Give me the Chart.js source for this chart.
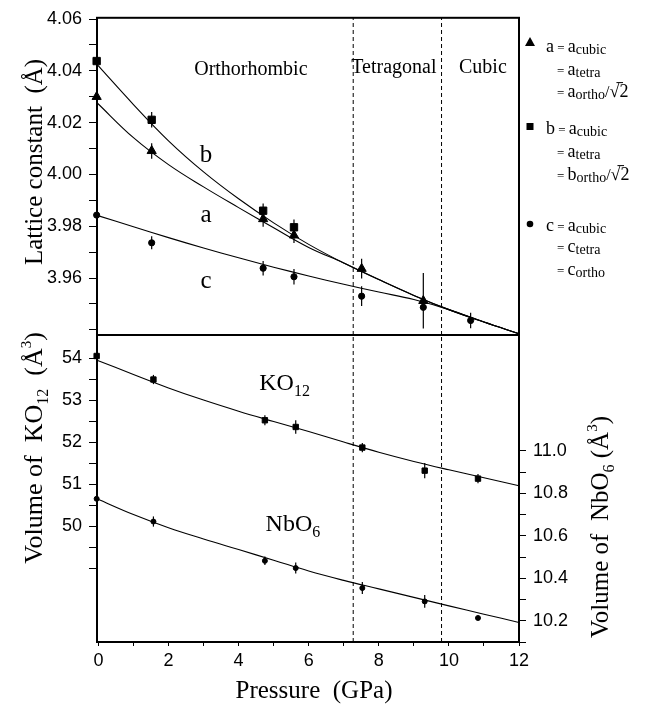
<!DOCTYPE html>
<html>
<head>
<meta charset="utf-8">
<script src="https://cdn.jsdelivr.net/npm/chart.js@4.4.1/dist/chart.umd.min.js"></script>
<style>
  body { margin: 0; background: #fff; }
  #wrap { position: relative; width: 665px; height: 706px; background: #fff; }
  canvas { position: absolute; left: 0; top: 0; }
</style>
</head>
<body>
<div id="wrap">
  <canvas id="topChart" width="665" height="706"></canvas>
  <canvas id="bottomChart" width="665" height="706"></canvas>
</div>
<script>
// pressure axis (GPa)
const xMin = -0.04, xMax = 12;
const xTicks = [0, 1, 2, 3, 4, 5, 6, 7, 8, 9, 10, 11, 12];
const xLabels = [0, 2, 4, 6, 8, 10, 12];
const phaseBounds = [7.27, 9.79];

// top panel: lattice constants (Å)
const topMin = 3.938, topMax = 4.0605;
const topTicks = [3.94, 3.95, 3.96, 3.97, 3.98, 3.99, 4.00, 4.01, 4.02, 4.03, 4.04, 4.05, 4.06];
const topLabels = [3.96, 3.98, 4.00, 4.02, 4.04, 4.06];

const pressureTop = [-0.05, 1.52, 4.70, 5.58, 7.51, 9.27, 10.62];
const aValues = [4.0300, 4.0091, 3.9828, 3.9765, 3.9636, 3.9512];
const aErrors = [0, 0.003, 0.003, 0.003, 0.0038, 0.0107];
const bValues = [4.0438, 4.0211, 3.9860, 3.9796];
const bErrors = [0, 0.003, 0.0028, 0.003];
const cValues = [3.9843, 3.9736, 3.9638, 3.9605, 3.9530, 3.9487, 3.9436];
const cErrors = [0, 0.0025, 0.0028, 0.003, 0.0038, 0, 0.003];

// fitted curves, read at these pressures
const fitPressure = [-0.04, 1, 2, 3, 4, 5, 6, 7, 8, 9, 10, 11, 12];
const aFit = [4.0277, 4.0142, 4.0038, 3.9952, 3.9872, 3.9794, 3.9718, 3.9658, 3.9594, 3.9533, 3.9478, 3.9430, 3.9385];
const bFit = [4.0425, 4.0270, 4.0130, 4.0010, 3.9906, 3.9813, 3.9730, 3.9658, 3.9594, 3.9533, 3.9478, 3.9430, 3.9385];
const cFit = [3.9842, 3.9798, 3.9756, 3.9716, 3.9678, 3.9642, 3.9608, 3.9576, 3.9546, 3.9517, 3.9478, 3.9430, 3.9385];

// bottom panel: polyhedral volumes (Å^3)
const leftMin = 47.25, leftMax = 54.56;
const leftTicks = [49, 49.5, 50, 50.5, 51, 51.5, 52, 52.5, 53, 53.5, 54];
const leftLabels = [50, 51, 52, 53, 54];
const rightMin = 10.1, rightMax = 11.545;
const rightTicks = [10.1, 10.2, 10.3, 10.4, 10.5, 10.6, 10.7, 10.8, 10.9, 11.0];
const rightLabels = [10.2, 10.4, 10.6, 10.8, 11.0];

const pressureBottom = [-0.05, 1.57, 4.75, 5.63, 7.53, 9.31, 10.83];
const ko12Values = [54.06, 53.50, 52.53, 52.37, 51.88, 51.33, 51.14];
const ko12Errors = [0, 0.11, 0.12, 0.16, 0.11, 0.18, 0.11];
const nbo6Values = [10.774, 10.667, 10.482, 10.448, 10.354, 10.291, 10.213];
const nbo6Errors = [0, 0.024, 0.02, 0.026, 0.028, 0.03, 0];
const ko12Fit = [53.96, 53.62, 53.30, 53.01, 52.745, 52.50, 52.26, 52.01, 51.77, 51.55, 51.35, 51.16, 50.97];
const nbo6Fit = [10.774, 10.70, 10.638, 10.585, 10.535, 10.485, 10.434, 10.39, 10.35, 10.31, 10.27, 10.231, 10.192];

const SERIF = '"Liberation Serif", "Times New Roman", serif';
const tickFont = { family: 'Liberation Sans', size: 18 };

function pts(xs, ys) {
  return ys.map((y, i) => ({ x: xs[i], y: y }));
}

function markers(xs, ys, errs, style, r, axis) {
  return {
    data: pts(xs, ys), errors: errs, yAxisID: axis, showLine: false,
    pointStyle: style, pointRadius: r, pointBackgroundColor: '#000',
    pointBorderColor: '#000', pointBorderWidth: 1, clip: false
  };
}

function curve(ys, axis) {
  return {
    data: pts(fitPressure, ys), yAxisID: axis, showLine: true,
    borderColor: '#000', borderWidth: 1.1, pointRadius: 0,
    tension: 0.4, clip: false
  };
}

function boundary(x, lo, hi, axis) {
  return {
    data: [{ x: x, y: lo }, { x: x, y: hi }], yAxisID: axis, showLine: true,
    borderColor: '#000', borderWidth: 1, borderDash: [4, 3], pointRadius: 0
  };
}

function seg(t, size, dy, over) {
  return { t: t, size: size, dy: dy || 0, over: !!over };
}

function drawRich(ctx, segs, x, y, align, rot) {
  ctx.save();
  ctx.translate(x, y);
  ctx.rotate(rot || 0);
  ctx.fillStyle = '#000';
  ctx.strokeStyle = '#000';
  ctx.textAlign = 'left';
  ctx.textBaseline = 'alphabetic';
  let total = 0;
  segs.forEach(s => {
    ctx.font = s.size + 'px ' + SERIF;
    s.w = ctx.measureText(s.t).width;
    total += s.w;
  });
  let cx = align === 'center' ? -total / 2 : 0;
  segs.forEach(s => {
    ctx.font = s.size + 'px ' + SERIF;
    ctx.fillText(s.t, cx, s.dy);
    if (s.over) {
      ctx.lineWidth = 1;
      ctx.beginPath();
      ctx.moveTo(cx - 3, s.dy - s.size * 0.8);
      ctx.lineTo(cx + s.w * 0.4, s.dy - s.size * 0.8);
      ctx.stroke();
    }
    cx += s.w;
  });
  ctx.restore();
}

const framePlugin = {
  id: 'frame',
  afterDraw(chart) {
    const a = chart.chartArea, ctx = chart.ctx;
    ctx.save();
    ctx.strokeStyle = '#000';
    ctx.lineWidth = 2;
    ctx.strokeRect(a.left, a.top, a.right - a.left, a.bottom - a.top);
    ctx.restore();
  }
};

const errorBarPlugin = {
  id: 'errorBars',
  afterDatasetsDraw(chart) {
    const ctx = chart.ctx;
    ctx.save();
    ctx.strokeStyle = '#000';
    ctx.lineWidth = 1.2;
    chart.data.datasets.forEach(ds => {
      if (!ds.errors) return;
      const ys = chart.scales[ds.yAxisID];
      ds.data.forEach((p, j) => {
        const e = ds.errors[j];
        if (!e) return;
        const x = chart.scales.x.getPixelForValue(p.x);
        ctx.beginPath();
        ctx.moveTo(x, ys.getPixelForValue(p.y - e));
        ctx.lineTo(x, ys.getPixelForValue(p.y + e));
        ctx.stroke();
      });
    });
    ctx.restore();
  }
};

function notesPlugin(items) {
  return {
    id: 'notes',
    afterDraw(chart) {
      items.forEach(it => {
        let x = it.px, y = it.py;
        if (it.axis) {
          x = chart.scales.x.getPixelForValue(it.x);
          y = chart.scales[it.axis].getPixelForValue(it.y);
        }
        drawRich(chart.ctx, it.segs, x, y, it.align || 'left', it.rot || 0);
      });
    }
  };
}

// legend symbols to the right of the top panel
const legendPlugin = {
  id: 'symbolKey',
  afterDraw(chart) {
    const ctx = chart.ctx;
    ctx.save();
    ctx.fillStyle = '#000';
    ctx.beginPath();
    ctx.moveTo(530, 37); ctx.lineTo(535, 46); ctx.lineTo(525, 46); ctx.closePath();
    ctx.fill();
    ctx.fillRect(526.5, 123, 7, 7);
    ctx.beginPath();
    ctx.arc(530, 224, 3.3, 0, Math.PI * 2);
    ctx.fill();
    ctx.restore();
  }
};

const topNotes = [
  { axis: 'y', x: 4.35, y: 4.0385, align: 'center', segs: [seg('Orthorhombic', 20)] },
  { axis: 'y', x: 8.43, y: 4.039, align: 'center', segs: [seg('Tetragonal', 20)] },
  { axis: 'y', x: 10.97, y: 4.039, align: 'center', segs: [seg('Cubic', 20)] },
  { axis: 'y', x: 3.07, y: 4.005, align: 'center', segs: [seg('b', 25)] },
  { axis: 'y', x: 3.07, y: 3.9815, align: 'center', segs: [seg('a', 25)] },
  { axis: 'y', x: 3.07, y: 3.9562, align: 'center', segs: [seg('c', 25)] },
  { px: 41.7, py: 162, rot: -Math.PI / 2, align: 'center', segs: [seg('Lattice constant  (Å)', 25)] },
  { px: 546, py: 52, segs: [seg('a', 18), seg(' = ', 13), seg('a', 18), seg('cubic', 14, 2)] },
  { px: 557, py: 75, segs: [seg('= ', 13), seg('a', 18), seg('tetra', 14, 2)] },
  { px: 557, py: 97, segs: [seg('= ', 13), seg('a', 18), seg('ortho', 14, 2), seg('/', 16), seg('√', 18), seg('2', 18, 0, true)] },
  { px: 546, py: 134, segs: [seg('b', 18), seg(' = ', 13), seg('a', 18), seg('cubic', 14, 2)] },
  { px: 557, py: 157, segs: [seg('= ', 13), seg('a', 18), seg('tetra', 14, 2)] },
  { px: 557, py: 180, segs: [seg('= ', 13), seg('b', 18), seg('ortho', 14, 2), seg('/', 16), seg('√', 18), seg('2', 18, 0, true)] },
  { px: 546, py: 231, segs: [seg('c', 18), seg(' = ', 13), seg('a', 18), seg('cubic', 14, 2)] },
  { px: 557, py: 252, segs: [seg('= ', 13), seg('c', 18), seg('tetra', 14, 2)] },
  { px: 557, py: 275, segs: [seg('= ', 13), seg('c', 18), seg('ortho', 14, 2)] }
];

const bottomNotes = [
  { axis: 'yL', x: 4.59, y: 53.245, segs: [seg('KO', 24), seg('12', 16, 6)] },
  { axis: 'yL', x: 4.77, y: 49.89, segs: [seg('NbO', 24), seg('6', 16, 6)] },
  { px: 41.7, py: 448, rot: -Math.PI / 2, align: 'center',
    segs: [seg('Volume of  KO', 26), seg('12', 16, 6), seg('  (Å', 26), seg('3', 15, -11), seg(')', 26)] },
  { px: 608, py: 527, rot: -Math.PI / 2, align: 'center',
    segs: [seg('Volume of  NbO', 25), seg('6', 16, 6), seg(' (Å', 25), seg('3', 15, -11), seg(')', 25)] },
  { px: 314, py: 698, align: 'center', segs: [seg('Pressure  (GPa)', 25)] }
];

function yAxis(pos, min, max, ticks, labels, digits, width, tickLen) {
  return {
    type: 'linear', position: pos, min: min, max: max,
    afterFit: s => { s.width = width; },
    afterBuildTicks: s => { s.ticks = ticks.map(v => ({ value: v })); },
    ticks: {
      autoSkip: false, color: '#000', font: tickFont, padding: 7,
      callback: v => labels.includes(v) ? v.toFixed(digits) : ''
    },
    grid: { drawOnChartArea: false, drawTicks: true, tickLength: tickLen, tickColor: '#000', tickWidth: 1 },
    border: { display: true, color: '#000', width: 2 }
  };
}

new Chart(document.getElementById('topChart'), {
  type: 'scatter',
  data: {
    datasets: [
      markers(pressureTop, aValues, aErrors, 'triangle', 5.3, 'y'),
      markers(pressureTop, bValues, bErrors, 'rect', 5.2, 'y'),
      markers(pressureTop, cValues, cErrors, 'circle', 3.1, 'y'),
      curve(aFit, 'y'),
      curve(bFit, 'y'),
      curve(cFit, 'y'),
      boundary(phaseBounds[0], topMin, topMax, 'y'),
      boundary(phaseBounds[1], topMin, topMax, 'y')
    ]
  },
  options: {
    responsive: false,
    animation: false,
    layout: { padding: { left: 0, top: 12, right: 146, bottom: 371 } },
    plugins: { legend: { display: false }, tooltip: { enabled: false } },
    scales: {
      x: { type: 'linear', min: xMin, max: xMax, display: false },
      y: yAxis('left', topMin, topMax, topTicks, topLabels, 2, 97, 8)
    }
  },
  plugins: [errorBarPlugin, framePlugin, legendPlugin, notesPlugin(topNotes)]
});

new Chart(document.getElementById('bottomChart'), {
  type: 'scatter',
  data: {
    datasets: [
      markers(pressureBottom, ko12Values, ko12Errors, 'rect', 3.8, 'yL'),
      markers(pressureBottom, nbo6Values, nbo6Errors, 'circle', 2.5, 'yR'),
      curve(ko12Fit, 'yL'),
      curve(nbo6Fit, 'yR'),
      boundary(phaseBounds[0], leftMin, leftMax, 'yL'),
      boundary(phaseBounds[1], leftMin, leftMax, 'yL')
    ]
  },
  options: {
    responsive: false,
    animation: false,
    layout: { padding: { left: 0, top: 335, right: 0, bottom: 0 } },
    plugins: { legend: { display: false }, tooltip: { enabled: false } },
    scales: {
      x: {
        type: 'linear', position: 'bottom', min: xMin, max: xMax,
        afterFit: s => { s.height = 64; },
        afterBuildTicks: s => { s.ticks = xTicks.map(v => ({ value: v })); },
        ticks: {
          autoSkip: false, maxRotation: 0, color: '#000', font: tickFont, padding: 4,
          callback: v => xLabels.includes(v) ? String(v) : ''
        },
        grid: { drawOnChartArea: false, drawTicks: true, tickLength: 4, tickColor: '#000', tickWidth: 1 },
        border: { display: true, color: '#000', width: 2 }
      },
      yL: yAxis('left', leftMin, leftMax, leftTicks, leftLabels, 0, 97, 8),
      yR: yAxis('right', rightMin, rightMax, rightTicks, rightLabels, 1, 146, 7)
    }
  },
  plugins: [errorBarPlugin, framePlugin, notesPlugin(bottomNotes)]
});
</script>
</body>
</html>
